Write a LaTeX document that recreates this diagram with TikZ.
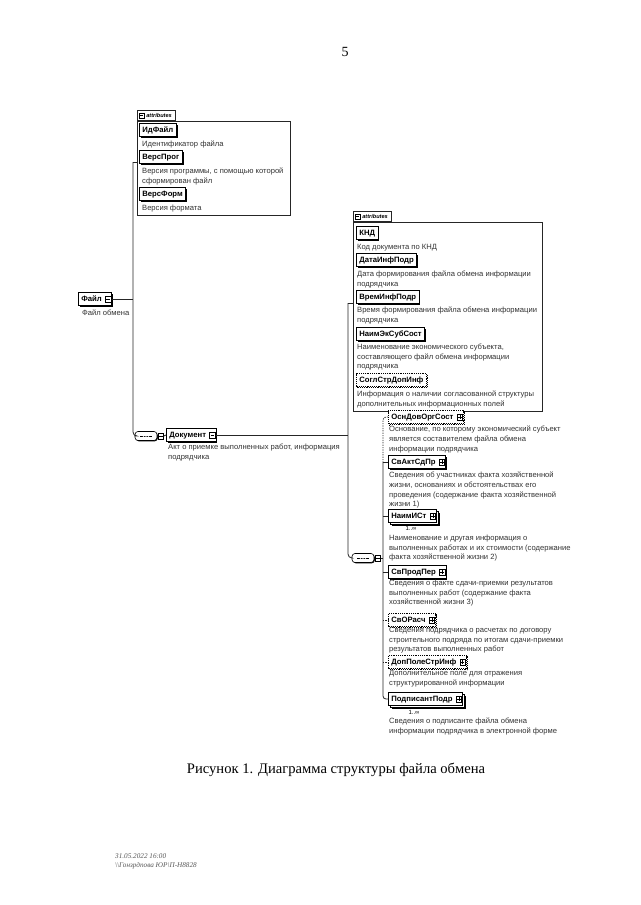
\documentclass[tikz,border=0pt]{standalone}
\usepackage{fontspec}
\setmainfont{Liberation Serif}
\setsansfont{Liberation Sans}
\usetikzlibrary{shadows}
\newcommand\elfont{\sffamily\bfseries\fontsize{7.7}{9}\selectfont}
\newcommand\dscfont{\sffamily\fontsize{7.6}{9.6}\selectfont}
\newcommand\tabfont{\sffamily\bfseries\itshape\fontsize{5.6}{6}\selectfont}
\newcommand\multfont{\sffamily\fontsize{6}{7}\selectfont}
\tikzset{
 conn/.style={line width=0.8pt, draw=black!85},
 optconn/.style={conn, dash pattern=on 1.2pt off 1.2pt},
 elbase/.style={draw=black, fill=white, line width=0.7pt, font=\elfont, inner xsep=3pt, inner ysep=0pt, minimum height=13pt, text height=5.7pt, text depth=1.4pt, anchor=west},
 solidel/.style={elbase, general shadow={fill=black, shadow xshift=1.3pt, shadow yshift=-1.3pt}},
 optel/.style={elbase, dash pattern=on 1.2pt off 1pt, general shadow={draw=black, fill=white, dash pattern=on 1.2pt off 1pt, shadow xshift=1.2pt, shadow yshift=-1.2pt}},
 multel/.style={elbase, general shadow={fill=black, shadow xshift=3.2pt, shadow yshift=-3.2pt}, copy shadow={shadow xshift=2.2pt, shadow yshift=-2.2pt, draw=black, fill=white}},
 desc/.style={font=\dscfont, align=left, anchor=north west, inner sep=0pt, text=black!80},
 pmbox/.style={draw, fill=white, line width=0.45pt, minimum size=5.5pt, inner sep=0pt},
 pmplus/.style={pmbox, path picture={\draw[line width=0.45pt] ([xshift=1pt]path picture bounding box.west) -- ([xshift=-1pt]path picture bounding box.east) ([yshift=-1pt]path picture bounding box.north) -- ([yshift=1pt]path picture bounding box.south);}},
 pmminus/.style={pmbox, path picture={\draw[line width=0.45pt] ([xshift=1pt]path picture bounding box.west) -- ([xshift=-1pt]path picture bounding box.east);}},
 seqsym/.style={draw, fill=white, line width=0.6pt, rounded corners=3pt, minimum width=22pt, minimum height=9pt, inner sep=0pt, general shadow={fill=black, shadow xshift=0.8pt, shadow yshift=-0.8pt}, path picture={\draw[line width=0.5pt] ([xshift=-6pt]path picture bounding box.center) -- ([xshift=6pt]path picture bounding box.center); \foreach \dx in {-2.5,0,2.5} \fill ([xshift=\dx pt]path picture bounding box.center) circle (0.8pt);}},
 container/.style={draw=black!85, line width=0.6pt, anchor=north west, inner sep=0pt},
 tabst/.style={draw=black!85, line width=0.6pt, anchor=south west, inner xsep=0pt, inner ysep=0pt, font=\tabfont, minimum height=10pt},
 mult/.style={font=\multfont, inner sep=0pt},
 footer/.style={font=\itshape\fontsize{7.2}{8}\selectfont, text=black!65, anchor=west, inner sep=0pt},
}
\begin{document}
\begin{tikzpicture}[x=1pt,y=-1pt]
\fill[white] (0,0) rectangle (640,905);
\useasboundingbox (0,0) rectangle (640,905);

\node[font=\fontsize{14}{16}\selectfont, inner sep=0pt] (pagenum) at (345,52) {5};

% ---- top attributes
\node[container, minimum width=153pt, minimum height=94pt] (attrA) at (137,121) {};
\node[tabst] (tabA) at (attrA.north west) {\hspace*{9pt}attributes\hspace*{3pt}};
\node[pmminus, minimum size=5pt] (tabAi) at ([xshift=4.5pt]tabA.west) {};
\node[solidel] (idf) at (139,130) {ИдФайл};
\node[desc] (idfd) at (142,141) {Идентификатор файла};
\node[solidel] (vprog) at (139,157) {ВерсПрог};
\node[desc] (vprogd) at (142,168) {Версия программы, с помощью которой\\сформирован файл};
\node[solidel] (vform) at (139,194) {ВерсФорм};
\node[desc] (vformd) at (142,205) {Версия формата};

% ---- root
\node[solidel] (fajl) at (78,299) {Файл\hspace*{7pt}};
\node[pmminus] (fajlm) at ([xshift=-4pt]fajl.east) {};
\node[desc] (fajld) at (82,310) {Файл обмена};

% ---- sequence 1 and Документ
\node[seqsym] (seq1) at (146,436) {};
\node[pmminus, anchor=west] (seq1m) at ([xshift=0.5pt]seq1.east) {};
\node[solidel] (doc) at (166,435) {Документ\hspace*{7pt}};
\node[pmminus] (docm) at ([xshift=-4pt]doc.east) {};
\node[desc] (docd) at (168,444) {Акт о приемке выполненных работ, информация\\подрядчика};

% ---- second attributes
\node[container, minimum width=189pt, minimum height=189pt] (attrB) at (353,222) {};
\node[tabst] (tabB) at (attrB.north west) {\hspace*{9pt}attributes\hspace*{3pt}};
\node[pmminus, minimum size=5pt] (tabBi) at ([xshift=4.5pt]tabB.west) {};
\node[solidel] (knd) at (356,233) {КНД};
\node[desc] (kndd) at (357,244) {Код документа по КНД};
\node[solidel] (data) at (356,260) {ДатаИнфПодр};
\node[desc] (datad) at (357,271) {Дата формирования файла обмена информации\\подрядчика};
\node[solidel] (vrem) at (356,297) {ВремИнфПодр};
\node[desc] (vremd) at (357,307) {Время формирования файла обмена информации\\подрядчика};
\node[solidel] (naimek) at (356,334) {НаимЭкСубСост};
\node[desc] (naimekd) at (357,344) {Наименование экономического субъекта,\\составляющего файл обмена информации\\подрядчика};
\node[optel] (sogl) at (356,380) {СоглСтрДопИнф};
\node[desc] (sogld) at (357,391) {Информация о наличии согласованной структуры\\дополнительных информационных полей};

% ---- sequence 2
\node[seqsym] (seq2) at (363,558) {};
\node[pmminus, anchor=west] (seq2m) at ([xshift=0.5pt]seq2.east) {};

% ---- children
\node[optel] (osn) at (388,417) {ОснДовОргСост\hspace*{7pt}};
\node[pmplus] (osnp) at ([xshift=-4pt]osn.east) {};
\node[desc] (osnd) at (389,426) {Основание, по которому экономический субъект\\является составителем файла обмена\\информации подрядчика};
\node[solidel] (svakt) at (388,462) {СвАктСдПр\hspace*{7pt}};
\node[pmplus] (svaktp) at ([xshift=-4pt]svakt.east) {};
\node[desc] (svaktd) at (389,472) {Сведения об участниках факта хозяйственной\\жизни, основаниях и обстоятельствах его\\проведения (содержание факта хозяйственной\\жизни 1)};
\node[multel] (naimist) at (388,516) {НаимИСт\hspace*{7pt}};
\node[pmplus] (naimistp) at ([xshift=-4pt]naimist.east) {};
\node[mult] (naimistm) at (411,528) {1..∞};
\node[desc] (naimistd) at (389,535) {Наименование и другая информация о\\выполненных работах и их стоимости (содержание\\факта хозяйственной жизни 2)};
\node[solidel] (svprod) at (388,572) {СвПродПер\hspace*{7pt}};
\node[pmplus] (svprodp) at ([xshift=-4pt]svprod.east) {};
\node[desc] (svprodd) at (389,580) {Сведения о факте сдачи-приемки результатов\\выполненных работ (содержание факта\\хозяйственной жизни 3)};
\node[optel] (svor) at (388,620) {СвОРасч\hspace*{7pt}};
\node[pmplus] (svorp) at ([xshift=-4pt]svor.east) {};
\node[desc] (svord) at (389,627) {Сведения подрядчика о расчетах по договору\\строительного подряда по итогам сдачи-приемки\\результатов выполненных работ};
\node[optel] (dop) at (388,662) {ДопПолеСтрИнф\hspace*{7pt}};
\node[pmplus] (dopp) at ([xshift=-4pt]dop.east) {};
\node[desc] (dopd) at (389,670) {Дополнительное поле для отражения\\структурированной информации};
\node[multel] (podp) at (388,699) {ПодписантПодр\hspace*{7pt}};
\node[pmplus] (podpp) at ([xshift=-4pt]podp.east) {};
\node[mult] (podpm) at (414,712) {1..∞};
\node[desc] (podpd) at (389,718) {Сведения о подписанте файла обмена\\информации подрядчика в электронной форме};

% ---- connectors
\coordinate (jTop) at (133,162);
\coordinate (jFile) at (133,299);
\draw[conn] (attrA.west |- jTop) -- (jTop);
\draw[conn, rounded corners=4pt] (jTop) |- (seq1.west);
\draw[conn] (fajl.east) -- (jFile);
\draw[conn] (seq1m.east) -- (doc.west);
\coordinate (jB) at (348,303);
\draw[conn] (attrB.west |- jB) -- (jB);
\draw[conn, rounded corners=4pt] (jB) |- (seq2.west);
\draw[conn] (doc.east) -- (doc.east -| jB);
\coordinate (jC) at (383,558);
\draw[conn] (seq2m.east) -- (jC);
\draw[optconn, rounded corners=3pt] (osn.west) -| (jC |- svakt.west);
\draw[conn, rounded corners=3pt] (jC |- svakt.west) |- (podp.west);
\draw[conn] (jC |- svakt.west) -- (svakt.west);
\draw[conn] (jC |- naimist.west) -- (naimist.west);
\draw[conn] (jC |- svprod.west) -- (svprod.west);
\draw[optconn] (jC |- svor.west) -- (svor.west);
\draw[optconn] (jC |- dop.west) -- (dop.west);

% ---- caption and footer
\node[font=\fontsize{14.6}{18}\selectfont, inner sep=0pt] (cap) at (336,770) {Рисунок 1. Диаграмма структуры файла обмена};
\node[footer] (foot1) at (115,856) {31.05.2022 16:00};
\node[footer] (foot2) at (115,866) {\textbackslash\textbackslash Гонзрдпова ЮР\textbackslash П-Н8828};
\end{tikzpicture}
\end{document}
